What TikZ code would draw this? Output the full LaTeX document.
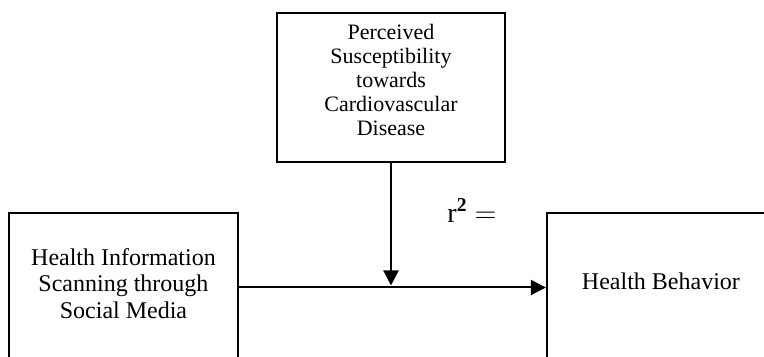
\documentclass[tikz,border=0pt]{standalone}
\usepackage{fontspec}
\setmainfont{Liberation Serif}
\usepackage{tikz}
\usetikzlibrary{arrows.meta,positioning}
\tikzset{
  box/.style={draw, line width=1pt, align=center, minimum width=4.01cm,
              minimum height=2.62cm, inner sep=0pt},
  topbox/.style={box, font=\fontsize{11}{12}\selectfont},
  lowbox/.style={box, font=\fontsize{12}{13.3}\selectfont},
  flow/.style={-{Triangle[length=7.5pt, width=7.5pt]}, line width=1pt},
}

\begin{document}
\begin{tikzpicture}
  \useasboundingbox (0,0) rectangle (13.426,-6.256);
  \clip (0,0) rectangle (13.426,-6.256);
  % moderator on top
  \node[topbox, text depth=7.5pt] at (6.871,-1.538) (sus) {Perceived\\Susceptibility\\towards\\Cardiovascular\\Disease};
  % predictor and outcome
  \node[lowbox, text depth=4pt] at (2.170,-5.052) (his) {Health Information\\Scanning through\\Social Media};
  \node[lowbox, text depth=6pt, right=5.40cm of his] (hb) {Health Behavior};
  \coordinate (mid) at (sus.south |- his.east);
  \draw[flow] (his.east) -- (hb.west);
  \draw[flow] (sus.south) -- ([yshift=1pt]mid);
  \node[font=\fontsize{14}{16}\selectfont] at (8.295,-3.70) (rsq) {r\textsuperscript{\textbf{2}} $=$};
\end{tikzpicture}
\end{document}
